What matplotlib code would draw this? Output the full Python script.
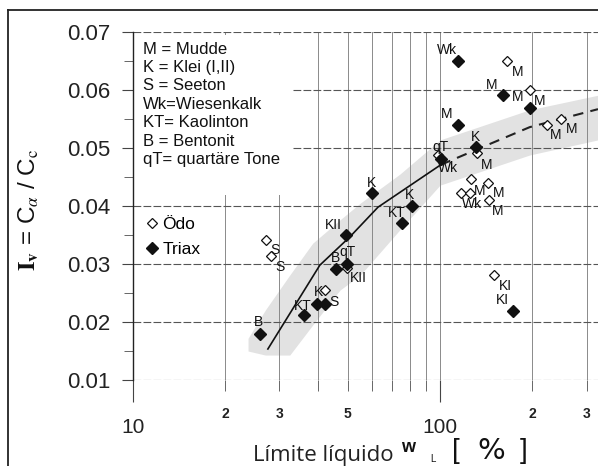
import matplotlib
matplotlib.use('Agg')
from matplotlib import pyplot as plt
from matplotlib.ticker import FixedLocator, FixedFormatter, NullFormatter
from matplotlib.patches import Rectangle
from matplotlib.lines import Line2D

plt.rcParams['mathtext.fontset'] = 'stix'

# Ödometer tests (open symbols)
odo_wl = [27.1, 28.2, 42.2, 49.8, 98.6, 132.0, 126.2, 117.0, 125.3, 143.3, 144.4,
          165.3, 196.4, 223.4, 247.6, 150.0]
odo_iv = [0.0341, 0.0314, 0.0255, 0.0293, 0.0488, 0.0491, 0.0447, 0.0422, 0.0422, 0.0440, 0.0410,
          0.0650, 0.0600, 0.0540, 0.0550, 0.0281]

# Triaxial tests (filled symbols)
triax_wl = [25.9, 36.1, 39.7, 42.2, 45.8, 49.8, 49.4, 60.0, 75.2, 81.1, 100.5,
            114.5, 114.5, 130.9, 160.3, 196.4, 173.0]
triax_iv = [0.0179, 0.0212, 0.0231, 0.0231, 0.0291, 0.0300, 0.0350, 0.0422, 0.0371, 0.0400, 0.0481,
            0.0650, 0.0540, 0.0502, 0.0591, 0.0569, 0.0219]

# soil type tags next to the points
tag_text = ['B', 'KT', 'K', 'S', 'B', 'qT', 'KII', 'KII', 'K', 'S', 'S',
            'KT', 'K', 'Wk', 'M', 'K', 'M', 'qT', 'Wk', 'Wk', 'M', 'M', 'M',
            'M', 'M', 'M', 'M', 'M', 'M', 'KI', 'KI']
tag_wl = [25.7, 35.8, 40.1, 45.2, 45.5, 50.1, 54.1, 44.8, 59.6, 29.0, 30.1,
          72.4, 79.8, 105.4, 105.4, 130.0, 142.2, 100.0, 106.2, 127.1, 134.9, 155.6, 154.5,
          179.6, 147.6, 179.6, 211.8, 238.8, 269.2, 162.8, 159.2]
tag_iv = [0.0200, 0.0228, 0.0252, 0.0234, 0.0310, 0.0321, 0.0276, 0.0367, 0.0440, 0.0324, 0.0295,
          0.0388, 0.0419, 0.0669, 0.0559, 0.0519, 0.0471, 0.0502, 0.0466, 0.0403, 0.0426, 0.0422, 0.0391,
          0.0631, 0.0609, 0.0588, 0.0581, 0.0522, 0.0533, 0.0262, 0.0238]

# trend line: solid part and dashed extension
trend_wl = [27.5, 40.6, 50.9, 62.8, 100.5]
trend_iv = [0.01535, 0.0298, 0.0347, 0.0398, 0.0471]
ext_wl = [100.5, 138.0, 196.0, 327.0]
ext_iv = [0.0471, 0.0502, 0.0536, 0.0567]

# scatter band
band_wl = [23.7, 27.0, 32.4, 38.5, 47.2, 55.0, 74.0, 100.0, 196.0, 327.0]
band_hi = [0.0172, 0.0221, 0.0281, 0.0336, 0.0376, 0.0405, 0.0455, 0.0514, 0.0566, 0.0591]
band_lo = [0.0150, 0.0143, 0.0143, 0.0195, 0.0255, 0.0281, 0.0359, 0.0436, 0.0488, 0.0514]

key_lines = ['M = Mudde', 'K = Klei (I,II)', 'S = Seeton', 'Wk=Wiesenkalk',
             'KT= Kaolinton', 'B = Bentonit', 'qT= quartäre Tone']

major_x = [10, 100]
major_x_labels = ['10', '100']
minor_x = [20, 30, 40, 50, 60, 70, 80, 90, 200, 300]
minor_x_labels = ['2', '3', '', '5', '', '', '', '', '2', '3']
y_ticks = [0.01, 0.02, 0.03, 0.04, 0.05, 0.06, 0.07]
y_minor = [0.015, 0.025, 0.035, 0.045, 0.055, 0.065]

sans = ['Liberation Sans', 'DejaVu Sans']

fig = plt.figure(figsize=(5.98, 4.66), dpi=100)
ax = fig.add_axes([0.2224, 0.1845, 0.7776, 0.7468])
ax.set_xscale('log')
ax.set_xlim(10, 327)
ax.set_ylim(0.01, 0.07)
ax.set_axisbelow(True)

ax.fill_between(band_wl, band_lo, band_hi, color='#e2e2e2', lw=0, zorder=0.3)

ax.xaxis.set_major_locator(FixedLocator(major_x))
ax.xaxis.set_major_formatter(FixedFormatter(major_x_labels))
ax.xaxis.set_minor_locator(FixedLocator(minor_x))
ax.xaxis.set_minor_formatter(FixedFormatter(minor_x_labels))
ax.yaxis.set_major_locator(FixedLocator(y_ticks))
ax.yaxis.set_minor_locator(FixedLocator(y_minor))
ax.yaxis.set_major_formatter(FixedFormatter(['%.2f' % v for v in y_ticks]))
ax.yaxis.set_minor_formatter(NullFormatter())

ax.grid(axis='x', which='both', color='#8a8a8a', lw=0.7)
ax.grid(axis='y', which='major', color='#555555', lw=0.8, ls=(0, (7, 2)))

for s in ['top', 'right', 'bottom']:
    ax.spines[s].set_visible(False)
ax.spines['left'].set_color('#222222')
ax.spines['left'].set_linewidth(1.0)

ax.tick_params(axis='x', which='major', direction='out', length=16, width=0.8,
               pad=11, labelsize=15, colors='#444444', labelcolor='#222222')
ax.tick_params(axis='x', which='minor', direction='out', length=8, width=0.7,
               pad=11.5, labelsize=10, colors='#666666', labelcolor='#222222')
ax.tick_params(axis='y', which='major', direction='out', length=8, width=0.8,
               pad=8.5, labelsize=16, colors='#444444', labelcolor='#222222')
ax.tick_params(axis='y', which='minor', direction='out', length=6.5, width=0.7, colors='#666666')
for lbl in ax.get_xticklabels() + ax.get_yticklabels():
    lbl.set_family(sans)
for lbl in ax.xaxis.get_minorticklabels():
    lbl.set_family(sans)
    lbl.set_fontweight('bold')

# white panel behind the abbreviation key
ax.add_patch(Rectangle((0.003, 0.532), 0.341, 0.46, transform=ax.transAxes,
                       facecolor='white', edgecolor='none', zorder=0.8))
ax.text(0.0215, 0.972, '\n'.join(key_lines), transform=ax.transAxes, va='top', ha='left',
        fontsize=12, linespacing=1.28, family=sans, color='#111111', zorder=2)

ax.plot(trend_wl, trend_iv, color='#111111', lw=1.2, zorder=2)
ax.plot(ext_wl, ext_iv, color='#222222', lw=1.5, ls=(0, (5, 3.5)), zorder=2)

h_odo, = ax.plot(odo_wl, odo_iv, ls='none', marker='D', ms=5.5, mfc='white',
                 mec='#111111', mew=0.9, zorder=3)
h_triax, = ax.plot(triax_wl, triax_iv, ls='none', marker='D', ms=6.5, mfc='#111111',
                   mec='#111111', zorder=4)

for t, x, y in zip(tag_text, tag_wl, tag_iv):
    ax.text(x, y, t, ha='center', va='center', fontsize=10, family=sans,
            color='#111111', zorder=5)

ax.legend([h_odo, h_triax], ['Ödo', 'Triax'], loc='upper left', bbox_to_anchor=(0.02, 0.485),
          frameon=False, handlelength=0.5, handletextpad=0.35, labelspacing=0.6,
          borderaxespad=0.0, borderpad=0.3,
          prop={'family': sans, 'size': 12.5})

# axis titles
fig.text(29 / 598, 1 - 210 / 466, r'$\mathbf{I}_\mathbf{v}$ = C$_\alpha$ / C$_\mathrm{c}$',
         rotation=90, ha='center', va='center', fontsize=17.5, family=sans, color='#111111')
fig.text(253 / 598, 1 - 456 / 466, 'Límite líquido', ha='left', va='center',
         fontsize=16, family=['Open Sans', 'DejaVu Sans'], color='#222222')
fig.text(401 / 598, 1 - 448 / 466, 'w', ha='left', va='center', fontsize=13,
         fontweight='bold', family=sans, color='#111111')
fig.text(430 / 598, 1 - 459 / 466, 'L', ha='left', va='center', fontsize=7,
         family=sans, color='#111111')
fig.text(452 / 598, 1 - 451 / 466, '[', ha='left', va='center', fontsize=20,
         family=sans, color='#111111')
fig.text(491 / 598, 1 - 451 / 466, '%', ha='center', va='center', fontsize=21,
         family=['DejaVu Sans'], color='#111111')
fig.text(527 / 598, 1 - 451 / 466, ']', ha='right', va='center', fontsize=20,
         family=sans, color='#111111')

# outer frame
fig.add_artist(Line2D([8 / 598, 8 / 598], [0, 1 - 10 / 466], transform=fig.transFigure,
                      color='#222222', lw=1.3))
fig.add_artist(Line2D([8 / 598, 1], [1 - 10 / 466, 1 - 10 / 466], transform=fig.transFigure,
                      color='#222222', lw=1.3))

fig.savefig('out.png', dpi=100)
